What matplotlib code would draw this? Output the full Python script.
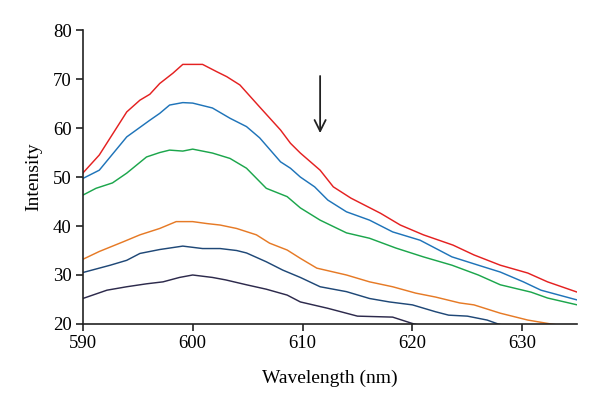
import matplotlib
matplotlib.use("Agg")
import matplotlib.pyplot as plt

plt.rcParams['font.family'] = ['Liberation Serif', 'DejaVu Serif']

red_x = [590, 591.5, 594, 595.2, 596.1, 597, 598.2, 599.1, 600.9, 602.2, 603.1, 604.3, 606.1, 608, 608.9, 609.8,
         611.6, 612.8, 614.4, 617.1, 618.9, 621, 623.7, 625.6, 628, 630.5, 632.3, 635]
red_y = [50.8, 54.5, 63.3, 65.7, 66.9, 69.1, 71.2, 73, 73, 71.5, 70.5, 68.8, 64.3, 59.6, 56.9, 54.9,
         51.4, 48, 45.7, 42.6, 40.2, 38.2, 36.1, 34.1, 32, 30.4, 28.6, 26.5]

blue_x = [590, 591.5, 594, 596.1, 597, 597.9, 599.1, 600, 601.8, 603.4, 604.9, 606.1, 608, 608.9, 609.8,
          611.1, 612.3, 614, 616.1, 618.2, 620.7, 623.6, 626, 628, 630.1, 631.7, 635]
blue_y = [49.7, 51.4, 58.2, 61.6, 63, 64.7, 65.2, 65.1, 64.1, 62, 60.3, 58, 53.1, 51.8, 50,
          48, 45.3, 42.9, 41.2, 38.8, 37.1, 33.7, 32, 30.6, 28.6, 26.9, 24.9]

green_x = [590, 591.2, 592.7, 594, 595.8, 597, 597.9, 599.1, 600, 601.8, 603.4, 604.9, 606.7, 608.6, 609.8,
           611.6, 614, 616.1, 618.5, 621, 623.6, 626, 628, 630.8, 632.3, 635]
green_y = [46.3, 47.7, 48.8, 50.8, 54.1, 55, 55.5, 55.3, 55.7, 54.9, 53.8, 51.8, 47.7, 46, 43.7,
           41.2, 38.6, 37.5, 35.5, 33.7, 32, 30, 28, 26.5, 25.3, 23.9]

orange_x = [590, 591.5, 593.7, 595.2, 597, 598.5, 600, 601.3, 602.5, 604, 605.8, 607, 608.6, 609.8,
            611.3, 614, 616.1, 618.2, 620.3, 622.1, 624.3, 625.6, 628, 630.5, 632.6, 633.5]
orange_y = [33.2, 34.8, 36.8, 38.2, 39.5, 40.9, 40.9, 40.5, 40.2, 39.5, 38.2, 36.5, 35.1, 33.4,
            31.4, 30, 28.6, 27.6, 26.3, 25.5, 24.3, 23.9, 22.2, 20.8, 20, 19.7]

navy_x = [590, 592.5, 594, 595.2, 597, 599.1, 600.9, 602.5, 604, 604.9, 606.7, 608.2, 609.8,
          611.6, 614, 616.1, 617.9, 620, 622.1, 623.3, 625, 626.8, 627.8, 628.5]
navy_y = [30.5, 32, 33, 34.4, 35.2, 35.9, 35.4, 35.4, 35, 34.5, 32.7, 31, 29.5,
          27.6, 26.6, 25.2, 24.5, 23.9, 22.5, 21.8, 21.6, 20.8, 20, 19.6]

dark_x = [590, 592.2, 594, 595.8, 597.3, 598.8, 600, 601.8, 603, 604.9, 606.7, 608.6, 609.8,
          612.3, 615, 618.2, 620, 620.5]
dark_y = [25.2, 26.9, 27.6, 28.2, 28.6, 29.5, 30, 29.5, 29, 28, 27.1, 25.9, 24.5,
          23.2, 21.6, 21.4, 20.1, 19.8]

series = [
    (red_x, red_y, '#e42121'),
    (blue_x, blue_y, '#1f74b9'),
    (green_x, green_y, '#1ca64c'),
    (orange_x, orange_y, '#e67a26'),
    (navy_x, navy_y, '#1f4877'),
    (dark_x, dark_y, '#2d2a4c'),
]

xticks = [590, 600, 610, 620, 630]
yticks = [20, 30, 40, 50, 60, 70, 80]

fig = plt.figure(figsize=(6.0, 4.07), dpi=100)
ax = fig.add_axes([0.138, 0.204, 0.824, 0.722])

for xs, ys, c in series:
    ax.plot(xs, ys, color=c, lw=1.05, solid_joinstyle='round')

ax.set_xlim(590, 635)
ax.set_ylim(20, 80)
ax.set_xticks(xticks)
ax.set_yticks(yticks)
ax.spines['top'].set_visible(False)
ax.spines['right'].set_visible(False)
for s in ('left', 'bottom'):
    ax.spines[s].set_linewidth(1.2)
    ax.spines[s].set_color('#222222')
ax.tick_params(direction='out', length=5, width=1.2, labelsize=13.5, colors='#222222',
               labelcolor='black', pad=3)

ax.set_xlabel('Wavelength (nm)', fontsize=14, labelpad=13)
ax.set_ylabel('Intensity', fontsize=14, labelpad=8)

ax.annotate('', xy=(611.6, 58.4), xytext=(611.6, 71.2),
            arrowprops=dict(arrowstyle='->', color='#222222', lw=1.3, mutation_scale=20))

fig.savefig('out.png', dpi=100)
